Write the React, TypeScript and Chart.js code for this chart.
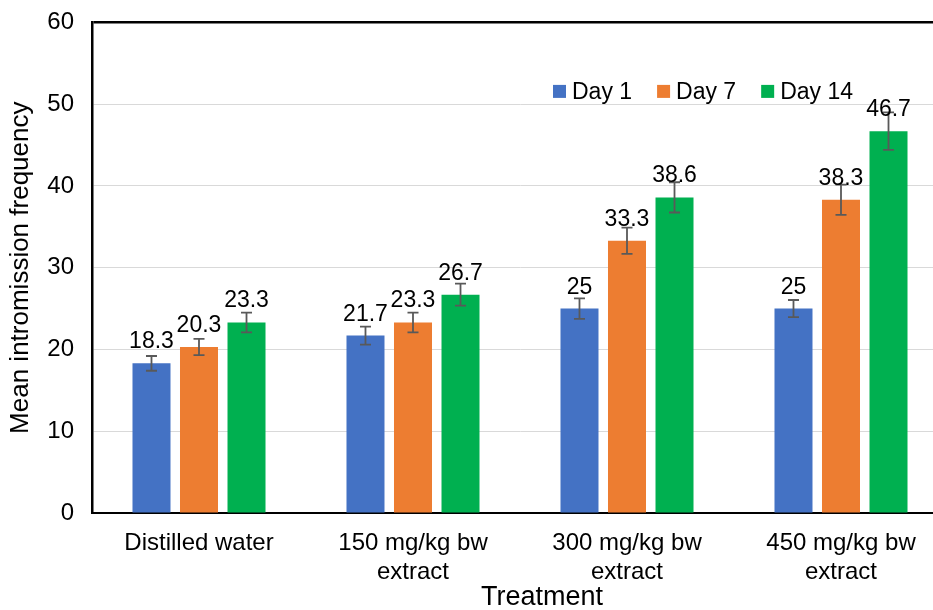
import { useEffect, useRef } from "react";
import { Chart, registerables } from "chart.js";

Chart.register(...registerables);

const categories: string[][] = [
  ["Distilled water"],
  ["150 mg/kg bw", "extract"],
  ["300 mg/kg bw", "extract"],
  ["450 mg/kg bw", "extract"],
];
const seriesNames = ["Day 1", "Day 7", "Day 14"];
const day1 = [18.3, 21.7, 25, 25];
const day7 = [20.3, 23.3, 33.3, 38.3];
const day14 = [23.3, 26.7, 38.6, 46.7];
const err1 = [0.9, 1.1, 1.25, 1.05];
const err7 = [1.0, 1.2, 1.6, 1.85];
const err14 = [1.2, 1.35, 1.85, 2.3];
const colors = ["#4472C4", "#ED7D31", "#00B050"];
const labels1 = ["18.3", "21.7", "25", "25"];
const labels7 = ["20.3", "23.3", "33.3", "38.3"];
const labels14 = ["23.3", "26.7", "38.6", "46.7"];
const yMin = 0;
const yMax = 60;
const yStep = 10;
const xTitle = "Treatment";
const yTitle = "Mean intromission frequency";

const FONT = "'Liberation Sans', Arial, sans-serif";

const errors = [err1, err7, err14];
const valueLabels = [labels1, labels7, labels14];

const overlayPlugin = {
  id: "overlay",
  afterDatasetsDraw(chart: any) {
    const ctx = chart.ctx;
    const yScale = chart.scales.y;
    ctx.save();
    chart.data.datasets.forEach((ds: any, di: number) => {
      const meta = chart.getDatasetMeta(di);
      meta.data.forEach((bar: any, i: number) => {
        const v = ds.data[i];
        const e = errors[di][i];
        const x = bar.x;
        const yTop = yScale.getPixelForValue(v + e);
        const yBot = yScale.getPixelForValue(v - e);
        ctx.strokeStyle = "#595959";
        ctx.lineWidth = 1.8;
        ctx.beginPath();
        ctx.moveTo(x, yTop);
        ctx.lineTo(x, yBot);
        ctx.moveTo(x - 5.5, yTop);
        ctx.lineTo(x + 5.5, yTop);
        ctx.moveTo(x - 5.5, yBot);
        ctx.lineTo(x + 5.5, yBot);
        ctx.stroke();
      });
    });
    chart.data.datasets.forEach((ds: any, di: number) => {
      const meta = chart.getDatasetMeta(di);
      meta.data.forEach((bar: any, i: number) => {
        ctx.fillStyle = "#000";
        ctx.font = `23px ${FONT}`;
        ctx.textAlign = "center";
        ctx.textBaseline = "alphabetic";
        ctx.fillText(valueLabels[di][i], bar.x, bar.y - 15);
      });
    });
    ctx.restore();
  },
  afterDraw(chart: any) {
    const ctx = chart.ctx;
    const area = chart.chartArea;
    ctx.save();
    ctx.font = `23px ${FONT}`;
    ctx.textBaseline = "middle";
    ctx.textAlign = "left";
    let x = area.left + 461;
    const cy = area.top + 69;
    chart.data.datasets.forEach((ds: any) => {
      ctx.fillStyle = ds.backgroundColor;
      ctx.fillRect(x, cy - 6.5, 13, 13);
      ctx.fillStyle = "#000";
      ctx.fillText(ds.label, x + 19, cy + 1);
      x += 19 + ctx.measureText(ds.label).width + 25;
    });
    // x-axis title
    ctx.font = `27px ${FONT}`;
    ctx.textAlign = "center";
    ctx.textBaseline = "middle";
    ctx.fillText(xTitle, (area.left + area.right) / 2 + 22, area.bottom + 85);
    ctx.restore();
  },
};

export default function App() {
  const ref = useRef<HTMLCanvasElement>(null);
  useEffect(() => {
    if (!ref.current) return;
    const data = [day1, day7, day14];
    const chart = new Chart(ref.current, {
      type: "bar",
      data: {
        labels: categories,
        datasets: seriesNames.map((name, i) => ({
          label: name,
          data: data[i],
          backgroundColor: colors[i],
          borderWidth: 0,
          barPercentage: 0.8,
          categoryPercentage: 0.666,
        })),
      },
      options: {
        animation: false,
        responsive: false,
        devicePixelRatio: 1,
        layout: { padding: { top: 12, right: 0, left: 0, bottom: 0 } },
        plugins: {
          legend: { display: false },
          tooltip: { enabled: false },
        },
        scales: {
          x: {
            grid: { display: false, drawTicks: false },
            border: { color: "#000", width: 2 },
            ticks: {
              color: "#000",
              font: { family: FONT, size: 24 },
              padding: 16,
              maxRotation: 0,
              autoSkip: false,
            },
            title: { display: false, text: xTitle },
            afterFit(scale: any) {
              scale.height = 97;
            },
          },
          y: {
            min: yMin,
            max: yMax,
            grid: {
              drawTicks: false,
              color: (c: any) => (c.tick && c.tick.value === yMax ? "#000" : "#d9d9d9"),
              lineWidth: (c: any) => (c.tick && c.tick.value === yMax ? 2.5 : 1),
            },
            border: { color: "#000", width: 2.5 },
            ticks: {
              stepSize: yStep,
              color: "#000",
              font: { family: FONT, size: 24 },
              padding: 18,
            },
            title: {
              display: true,
              text: yTitle,
              color: "#000",
              font: { family: FONT, size: 26, lineHeight: 1 },
              padding: { top: 8, bottom: 0 },
            },
            afterFit(scale: any) {
              scale.width = 92;
            },
          },
        },
      },
      plugins: [overlayPlugin],
    });
    return () => chart.destroy();
  }, []);
  return (
    <div
      style={{
        position: "fixed",
        left: 0,
        top: 0,
        width: 933,
        height: 610,
        overflow: "hidden",
        background: "#fff",
      }}
    >
      <canvas
        ref={ref}
        width={948}
        height={620}
        style={{ display: "block", position: "absolute", left: 0, top: -10 }}
      />
    </div>
  );
}
